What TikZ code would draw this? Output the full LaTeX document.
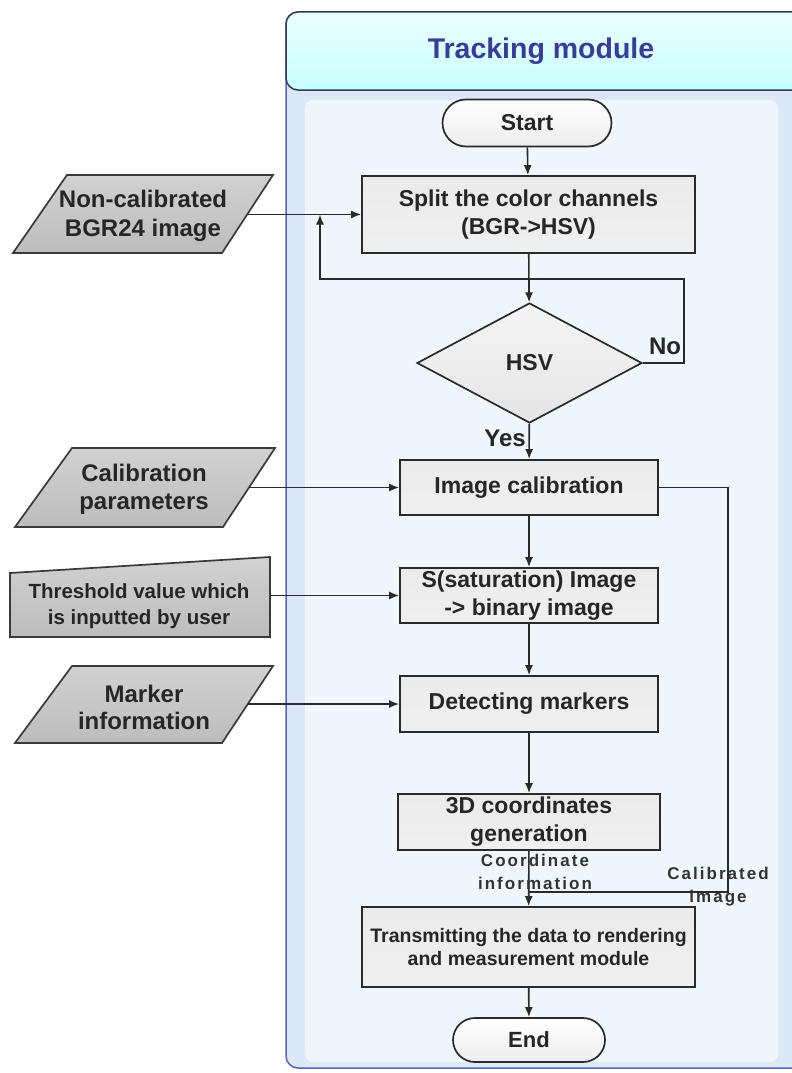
\documentclass[tikz,border=0pt]{standalone}
\usepackage{fontspec}
\setmainfont{Liberation Sans}
\newfontfamily\spacedfont[LetterSpace=12]{Liberation Sans}
\usetikzlibrary{shapes.geometric,shapes.misc,arrows.meta,calc}

\definecolor{linec}{HTML}{2A2A2A}
\definecolor{modedge}{HTML}{5B63B7}
\definecolor{modfill}{HTML}{DCE7F7}
\definecolor{panelfill}{HTML}{EFF7FC}
\definecolor{titleedge}{HTML}{2F3E55}
\definecolor{titletext}{HTML}{3B3B98}
\definecolor{inpedge}{HTML}{3A3A3A}

\newcommand{\fsz}[2]{\fontsize{#1}{#2}\selectfont}

\begin{document}
\begin{tikzpicture}[x=1pt,y=-1pt,
  proc/.style={draw=linec, line width=1.7pt, top color=white!92!black, bottom color=white!94!black,
    align=center, inner sep=0pt, text=black!85, font=\bfseries\fsz{23}{28}},
  term/.style={rounded rectangle, draw=linec, line width=1.7pt, top color=white, bottom color=white!93!black,
    inner sep=0pt, text=black!85, font=\bfseries\fsz{23}{28}},
  decide/.style={diamond, draw=linec, line width=1.7pt, top color=white!96!black, bottom color=white!90!black,
    inner sep=0pt, text=black!85, font=\bfseries\fsz{23}{27}},
  inp/.style={draw=inpedge, line width=1.7pt, top color=white!82!black, bottom color=white!74!black},
  inptext/.style={align=center, inner sep=0pt, text=black!85},
  flow/.style={draw=linec, line width=1.6pt, -{Latex[length=10pt,width=8pt]}},
  link/.style={draw=linec, line width=1.6pt},
  tag/.style={align=center, inner sep=0pt, text=black!85, font=\bfseries\fsz{24}{28}},
  smalltag/.style={align=center, inner sep=0pt, text=black!80, font=\spacedfont\bfseries\fsz{17}{23}}
]
\useasboundingbox (0,0) rectangle (792,1073);
\clip (0,0) rectangle (792,1073);

% module frame, title band and inner panel
\draw[draw=modedge, line width=1.5pt, fill=modfill, rounded corners=12pt] (286,12) rectangle (820,1068);
\fill[panelfill, rounded corners=8pt] (305,100) rectangle (778,1062);
\draw[draw=titleedge, line width=1.5pt, top color=white!70!cyan!25, bottom color=cyan!22!white, rounded corners=12pt]
  (286,12) rectangle (820,90);
\node[font=\bfseries\fsz{28.5}{32}, text=titletext] (title) at (541,51) {Tracking module};

% flow steps
\node[term, minimum width=169pt, minimum height=47pt] (start) at (527,123) {Start};
\node[proc, minimum width=333pt, minimum height=77pt] (split) at (528.5,214.5) {Split the color channels\\(BGR->HSV)};
\node[decide, minimum width=225pt, minimum height=120pt] (hsv) at (529.5,363) {HSV};
\node[proc, minimum width=258pt, minimum height=55pt] (calib) at (529,487.5) {Image calibration};
\node[proc, minimum width=258pt, minimum height=55pt] (sat) at (529,595.5) {S(saturation) Image\\-> binary image};
\node[proc, minimum width=258pt, minimum height=56pt] (detect) at (529,704) {Detecting markers};
\node[proc, minimum width=262pt, minimum height=56pt] (gen) at (529,822) {3D coordinates\\generation};
\node[proc, minimum width=333pt, minimum height=80pt, font=\bfseries\fsz{19.5}{23}] (trans) at (528.5,947)
  {Transmitting the data to rendering\\and measurement module};
\node[term, minimum width=152pt, minimum height=44pt, font=\bfseries\fsz{22}{26}] (end) at (529,1040) {End};

% external inputs
\draw[inp] (67,175) -- (273,175) -- (222,253) -- (13,253) -- cycle;
\node[inptext, font=\bfseries\fsz{24}{29}] (nc) at (143,216) {Non-calibrated\\BGR24 image};
\coordinate (ncout) at (248,214.5);

\draw[inp] (72,448) -- (275,448) -- (223,527) -- (15,527) -- cycle;
\node[inptext, font=\bfseries\fsz{24}{28}] (cp) at (144,489) {Calibration\\parameters};
\coordinate (cpout) at (249,487.5);

\draw[inp] (10,573) -- (270,557) -- (270,637) -- (10,637) -- cycle;
\node[inptext, font=\bfseries\fsz{20.5}{26}] (th) at (139,606) {Threshold value which\\is inputted by user};
\coordinate (thout) at (270,595.5);

\draw[inp] (72,666) -- (273,666) -- (222,743) -- (15,743) -- cycle;
\node[inptext, font=\bfseries\fsz{24}{27}] (mk) at (144,707) {Marker\\information};
\coordinate (mkout) at (248,704);

% connectors
\draw[flow] (ncout) -- (split.west);
\draw[flow] (cpout) -- (calib.west);
\draw[flow] (thout) -- (sat.west);
\draw[flow] (mkout) -- (detect.west);

\draw[flow] (start) -- (split);
\draw[flow] (split) -- (hsv);
\coordinate (loopR) at (684,279);
\coordinate (loopL) at (320,279);
\coordinate (loopin) at (320,214.5);
\draw[flow] (hsv.east) -| (loopR) -- (loopL) -- (loopin);
\draw[flow] (hsv) -- (calib);
\draw[flow] (calib) -- (sat);
\draw[flow] (sat) -- (detect);
\draw[flow] (detect) -- (gen);
\draw[flow] (gen) -- (trans);
\coordinate (calR) at (728,892);
\draw[link] (calib.east) -| (calR) -- (calR -| trans.north);
\draw[flow] (trans) -- (end);

% labels
\node[tag] (no) at (665,346) {No};
\node[tag] (yes) at (505,438) {Yes};
\node[smalltag] (coordinfo) at (535,872) {Coordinate\\information};
\node[smalltag] (calimg) at (718,887) {Calibrated\\image};
\end{tikzpicture}
\end{document}
